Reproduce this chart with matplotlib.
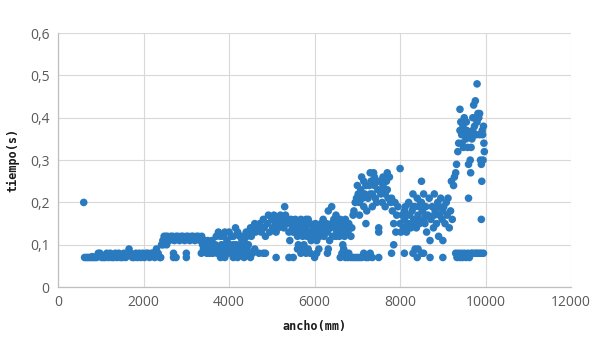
import matplotlib
matplotlib.use("Agg")
import matplotlib.pyplot as plt
from matplotlib.ticker import FuncFormatter

# ---- data (ancho in mm, tiempo in s) ----
seg_a = [(600, 0.20), (620, 0.07), (660, 0.07), (700, 0.07), (740, 0.07), (780, 0.07), (820, 0.07),
         (860, 0.07), (900, 0.07), (940, 0.08), (980, 0.08), (1020, 0.07), (1060, 0.07), (1100, 0.07),
         (1140, 0.08), (1180, 0.07), (1220, 0.08), (1260, 0.07), (1300, 0.07), (1340, 0.08), (1380, 0.07),
         (1420, 0.08), (1460, 0.07), (1500, 0.07), (1540, 0.08), (1580, 0.07), (1620, 0.08), (1660, 0.09),
         (1700, 0.08), (1740, 0.07), (1780, 0.07), (1820, 0.08), (1860, 0.07), (1900, 0.08), (1940, 0.07),
         (1980, 0.08), (2020, 0.07), (2060, 0.08), (2100, 0.08), (2140, 0.07), (2180, 0.08), (2220, 0.08),
         (2260, 0.07), (2300, 0.09), (2340, 0.08), (2380, 0.07), (1200, 0.075), (1000, 0.075),
         (1450, 0.075), (1750, 0.075), (2000, 0.075), (800, 0.072), (1300, 0.075)]

seg_b = [(2420, 0.10), (2460, 0.10), (2500, 0.11), (2540, 0.10), (2450, 0.11), (2480, 0.12), (2520, 0.12),
         (2560, 0.12), (2600, 0.11), (2640, 0.12), (2680, 0.12), (2720, 0.11), (2760, 0.12), (2800, 0.12),
         (2840, 0.11), (2880, 0.12), (2920, 0.12), (2960, 0.11), (3000, 0.12), (3040, 0.12), (3080, 0.11),
         (3120, 0.12), (3160, 0.12), (3200, 0.11), (3240, 0.12), (3280, 0.12), (3320, 0.11), (3360, 0.12),
         (2580, 0.115), (2700, 0.115), (2820, 0.115), (2940, 0.115), (3060, 0.115), (3180, 0.115),
         (3300, 0.115), (2400, 0.07), (2700, 0.07), (2700, 0.08), (2760, 0.07), (3000, 0.07), (3000, 0.08)]

seg_c = [(3350, 0.08), (3400, 0.09), (3420, 0.11), (3450, 0.10), (3480, 0.08), (3500, 0.11), (3520, 0.09),
         (3550, 0.08), (3580, 0.10), (3600, 0.11), (3620, 0.08), (3650, 0.09), (3680, 0.10), (3700, 0.12),
         (3720, 0.08), (3750, 0.13), (3770, 0.09), (3800, 0.12), (3820, 0.10), (3850, 0.08), (3870, 0.12),
         (3900, 0.13), (3920, 0.09), (3950, 0.11), (3980, 0.08), (4000, 0.13), (4020, 0.10), (4050, 0.12),
         (4080, 0.09), (4100, 0.12), (4120, 0.08), (4150, 0.14), (4170, 0.10), (4200, 0.13), (4220, 0.09),
         (4250, 0.12), (4270, 0.08), (4300, 0.11), (4320, 0.10), (4350, 0.09), (4380, 0.08), (4420, 0.09),
         (4450, 0.08), (3380, 0.10), (3600, 0.09), (3700, 0.09), (3900, 0.10), (4000, 0.09), (4100, 0.10),
         (4200, 0.08), (3500, 0.085), (3800, 0.085), (4050, 0.085), (3800, 0.07), (3900, 0.07),
         (4100, 0.07), (4200, 0.07), (4350, 0.07), (4500, 0.07)]

seg_d = [(4300, 0.12), (4350, 0.11), (4400, 0.13), (4420, 0.12), (4450, 0.10), (4500, 0.14), (4520, 0.12),
         (4550, 0.13), (4600, 0.15), (4620, 0.13), (4650, 0.14), (4700, 0.14), (4720, 0.15), (4750, 0.13),
         (4800, 0.16), (4820, 0.14), (4850, 0.12), (4900, 0.15), (4920, 0.17), (4950, 0.13), (5000, 0.16),
         (5020, 0.14), (5050, 0.17), (5080, 0.15), (5100, 0.13), (5120, 0.16), (5150, 0.14), (5200, 0.17),
         (5220, 0.15), (5250, 0.16), (5280, 0.14), (5300, 0.19), (5320, 0.17), (5350, 0.15), (5380, 0.16),
         (5400, 0.13), (4500, 0.08), (4550, 0.08), (4600, 0.09), (4700, 0.08), (4800, 0.08), (4850, 0.08),
         (5100, 0.07), (5400, 0.07), (5420, 0.11)]

seg_e = [(5450, 0.16), (5480, 0.14), (5500, 0.15), (5520, 0.13), (5550, 0.16), (5580, 0.14), (5600, 0.12),
         (5620, 0.15), (5650, 0.13), (5680, 0.16), (5700, 0.14), (5720, 0.12), (5750, 0.15), (5780, 0.13),
         (5800, 0.14), (5820, 0.12), (5850, 0.16), (5880, 0.13), (5900, 0.15), (5920, 0.11), (5950, 0.13),
         (5980, 0.14), (6000, 0.12), (6020, 0.15), (6050, 0.11), (6080, 0.13), (6100, 0.14), (6120, 0.12),
         (6150, 0.15), (6180, 0.13), (6200, 0.16), (6220, 0.12), (6250, 0.14), (6280, 0.15), (6300, 0.13),
         (6320, 0.18), (6350, 0.11), (6380, 0.14), (6400, 0.19), (6420, 0.12), (6450, 0.16), (6480, 0.14),
         (6500, 0.17), (6520, 0.13), (6550, 0.15), (6580, 0.12), (6600, 0.16), (6620, 0.14), (6650, 0.13),
         (6680, 0.15), (6700, 0.12), (6720, 0.16), (6750, 0.14), (6780, 0.13), (6800, 0.15), (6820, 0.14),
         (5500, 0.13), (5600, 0.14), (5700, 0.13), (5800, 0.16), (5900, 0.12), (6000, 0.14), (6100, 0.13),
         (6200, 0.13), (6300, 0.14), (6400, 0.15), (6500, 0.12), (6600, 0.13), (6700, 0.14)]

seg_e_low = [(5500, 0.07), (5600, 0.09), (5620, 0.10), (5680, 0.08), (5720, 0.09), (5750, 0.10),
             (5800, 0.08), (5850, 0.09), (5900, 0.08), (6000, 0.07), (6050, 0.08), (6100, 0.09),
             (6300, 0.08), (6320, 0.09), (6600, 0.07), (6640, 0.08), (6660, 0.10), (6680, 0.09),
             (6700, 0.08), (6720, 0.07), (6750, 0.08), (6780, 0.07), (6800, 0.08), (6850, 0.07),
             (6900, 0.07), (6950, 0.07), (7000, 0.07), (7050, 0.07), (7100, 0.07), (7150, 0.08),
             (7200, 0.07), (7250, 0.07), (7300, 0.08), (7350, 0.07), (7500, 0.07)]

seg_f = [(6850, 0.12), (6870, 0.14), (6900, 0.17), (6920, 0.18), (6950, 0.20), (6980, 0.21), (7000, 0.24),
         (7020, 0.22), (7050, 0.20), (7080, 0.23), (7100, 0.26), (7120, 0.21), (7150, 0.19), (7170, 0.22),
         (7200, 0.15), (7220, 0.18), (7250, 0.21), (7280, 0.24), (7300, 0.27), (7320, 0.25), (7350, 0.22),
         (7380, 0.27), (7400, 0.24), (7420, 0.21), (7450, 0.20), (7480, 0.23), (7500, 0.14), (7500, 0.13),
         (7520, 0.25), (7550, 0.22), (7580, 0.20), (7600, 0.26), (7620, 0.23), (7650, 0.19), (7680, 0.25),
         (7700, 0.27), (7720, 0.21), (7750, 0.26), (7780, 0.20), (7200, 0.24), (7300, 0.22), (7400, 0.26),
         (7600, 0.24), (7700, 0.23), (7050, 0.17), (7150, 0.25), (7350, 0.19), (7450, 0.25), (7550, 0.25),
         (7650, 0.22)]

seg_g = [(7800, 0.21), (7820, 0.18), (7850, 0.15), (7880, 0.20), (7900, 0.13), (7920, 0.17), (7950, 0.19),
         (8000, 0.28), (8000, 0.15), (8020, 0.13), (8050, 0.17), (8080, 0.14), (8100, 0.16), (8120, 0.19),
         (8150, 0.13), (8180, 0.15), (8200, 0.20), (8220, 0.17), (8250, 0.14), (8280, 0.18), (8300, 0.22),
         (8320, 0.16), (8350, 0.19), (8380, 0.14), (8400, 0.21), (8420, 0.17), (8450, 0.15), (8480, 0.20),
         (8500, 0.25), (8520, 0.18), (8550, 0.22), (8580, 0.15), (8600, 0.19), (8620, 0.13), (8650, 0.17),
         (8680, 0.21), (8700, 0.11), (8720, 0.16), (8750, 0.19), (8780, 0.14), (8800, 0.22), (8820, 0.18),
         (8850, 0.15), (8880, 0.20), (8900, 0.12), (8920, 0.17), (8950, 0.21), (8980, 0.16), (9000, 0.11),
         (9020, 0.19), (9050, 0.15), (9080, 0.20), (9100, 0.17), (9120, 0.21), (9150, 0.14), (9180, 0.18),
         (9200, 0.25), (9220, 0.16), (9250, 0.24), (9270, 0.26), (8100, 0.18), (8200, 0.15), (8300, 0.19),
         (8400, 0.16), (8500, 0.20), (8600, 0.17), (8800, 0.17), (8900, 0.19), (9000, 0.18), (8350, 0.15),
         (8450, 0.19), (8550, 0.16), (7850, 0.10), (7800, 0.08), (8100, 0.08), (8300, 0.08), (8350, 0.09),
         (8400, 0.07), (8420, 0.09), (8500, 0.08), (8550, 0.08), (8700, 0.07), (9000, 0.07)]

seg_h = [(9300, 0.27), (9320, 0.29), (9350, 0.32), (9370, 0.34), (9400, 0.42), (9400, 0.37), (9420, 0.39),
         (9440, 0.36), (9450, 0.34), (9470, 0.38), (9480, 0.33), (9500, 0.40), (9520, 0.36), (9540, 0.35),
         (9560, 0.37), (9580, 0.33), (9600, 0.29), (9600, 0.21), (9620, 0.36), (9640, 0.30), (9650, 0.27),
         (9660, 0.33), (9680, 0.35), (9700, 0.37), (9720, 0.43), (9740, 0.38), (9760, 0.44), (9780, 0.36),
         (9800, 0.48), (9800, 0.39), (9820, 0.41), (9840, 0.40), (9860, 0.36), (9880, 0.30), (9900, 0.29),
         (9900, 0.16), (9910, 0.25), (9920, 0.37), (9940, 0.30), (9950, 0.38), (9960, 0.34), (9970, 0.32),
         (9930, 0.36), (9860, 0.41), (9780, 0.40), (9700, 0.40), (9550, 0.39)]

seg_h_low = [(9300, 0.08), (9330, 0.07), (9360, 0.08), (9400, 0.07), (9430, 0.08), (9460, 0.07),
             (9500, 0.08), (9540, 0.07), (9580, 0.08), (9620, 0.07), (9660, 0.08), (9700, 0.08),
             (9760, 0.08), (9800, 0.08), (9850, 0.08), (9900, 0.08), (9950, 0.08)]

x_ticks = [0, 2000, 4000, 6000, 8000, 10000, 12000]
y_ticks = [0, 0.1, 0.2, 0.3, 0.4, 0.5, 0.6]
x_label = "ancho(mm)"
y_label = "tiempo(s)"

points = seg_a + seg_b + seg_c + seg_d + seg_e + seg_e_low + seg_f + seg_g + seg_h + seg_h_low
xs = [p[0] for p in points]
ys = [p[1] for p in points]

fig = plt.figure(figsize=(6.05, 3.41), dpi=100)
ax = fig.add_axes([0.096, 0.158, 0.848, 0.745])
ax.scatter(xs, ys, s=30, color="#2A7AC0", edgecolors="none", zorder=3)

ax.set_xlim(0, 12000)
ax.set_ylim(0, 0.6)
ax.set_xticks(x_ticks)
ax.set_yticks(y_ticks)

def fmt_y(v, pos):
    if abs(v) < 1e-9:
        return "0"
    return ("%.1f" % v).replace(".", ",")

ax.yaxis.set_major_formatter(FuncFormatter(fmt_y))
ax.xaxis.set_major_formatter(FuncFormatter(lambda v, p: "%d" % v))

ax.grid(True, color="#D9D9D9", linewidth=0.8, zorder=0)
ax.set_axisbelow(True)
for side in ["top", "right"]:
    ax.spines[side].set_visible(False)
for side in ["left", "bottom"]:
    ax.spines[side].set_color("#BFBFBF")
    ax.spines[side].set_linewidth(0.9)

ax.tick_params(length=0, labelsize=10, labelcolor="#595959", pad=6)
for lab in ax.get_xticklabels() + ax.get_yticklabels():
    lab.set_fontfamily("Open Sans")

ax.set_xlabel(x_label, fontsize=8.5, fontweight="bold", family="DejaVu Sans Mono", color="#1a1a1a", labelpad=7)
ax.set_ylabel(y_label, fontsize=8.5, fontweight="bold", family="DejaVu Sans Mono", color="#1a1a1a", labelpad=8)

fig.savefig("out.png", dpi=100, facecolor="white")
